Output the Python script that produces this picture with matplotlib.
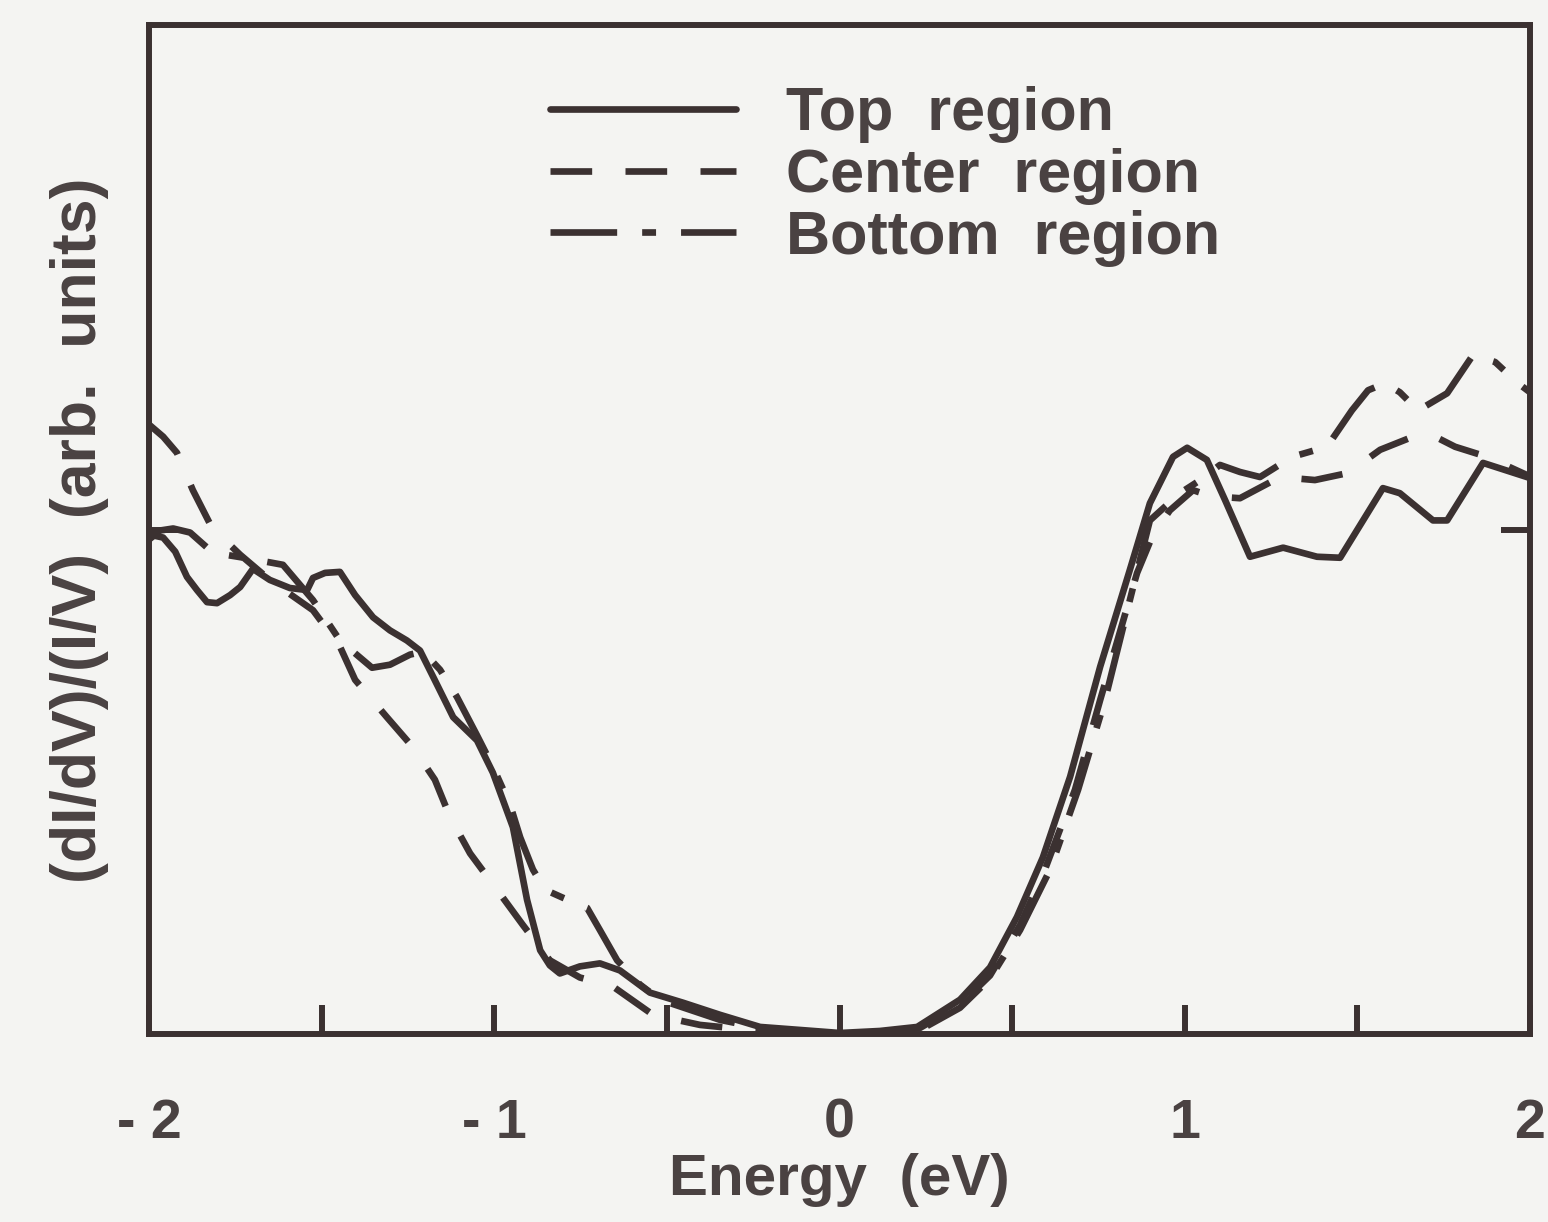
import matplotlib
matplotlib.use("Agg")
import matplotlib.pyplot as plt
from matplotlib.ticker import MultipleLocator, NullFormatter

plt.rcParams['font.family'] = ['Liberation Sans', 'DejaVu Sans']
plt.rcParams['lines.scale_dashes'] = False

# ---- data ----
top_x = [-2.000, -1.959, -1.924, -1.890, -1.861, -1.832, -1.803, -1.765, -1.736, -1.699,
         -1.650, -1.592, -1.542, -1.525, -1.490, -1.447, -1.403, -1.351, -1.302, -1.253,
         -1.215, -1.177, -1.119, -1.050, -1.004, -0.946, -0.905, -0.867, -0.839, -0.810,
         -0.752, -0.694, -0.636, -0.549, -0.453, -0.346, -0.230, -0.114, 0.001, 0.117,
         0.225, 0.349, 0.436, 0.514, 0.589, 0.668, 0.755, 0.841, 0.899, 0.966,
         1.007, 1.064, 1.117, 1.189, 1.285, 1.383, 1.450, 1.574, 1.623, 1.719,
         1.760, 1.864, 2.000]
top_y = [0.495, 0.492, 0.478, 0.453, 0.440, 0.428, 0.427, 0.435, 0.443, 0.461,
         0.450, 0.442, 0.440, 0.452, 0.457, 0.458, 0.435, 0.413, 0.400, 0.390,
         0.380, 0.354, 0.314, 0.291, 0.259, 0.205, 0.133, 0.083, 0.068, 0.060,
         0.067, 0.070, 0.063, 0.041, 0.031, 0.019, 0.007, 0.004, 0.001, 0.003,
         0.007, 0.034, 0.066, 0.116, 0.175, 0.255, 0.364, 0.460, 0.526, 0.572,
         0.581, 0.569, 0.529, 0.473, 0.482, 0.473, 0.472, 0.541, 0.536, 0.509,
         0.509, 0.566, 0.551]

center_x = [-2.000, -1.959, -1.919, -1.873, -1.818, -1.736, -1.650, -1.525, -1.447, -1.403,
            -1.311, -1.235, -1.172, -1.128, -1.070, -0.992, -0.917, -0.839, -0.752, -0.656,
            -0.540, -0.404, -0.259, -0.114, 0.001, 0.117, 0.233, 0.349, 0.436, 0.523,
            0.595, 0.682, 0.755, 0.862, 0.908, 0.957, 1.024, 1.067, 1.117, 1.160,
            1.276, 1.377, 1.473, 1.566, 1.676, 1.731, 1.783, 1.876, 1.991, 2.000]
center_y = [0.604, 0.592, 0.576, 0.539, 0.502, 0.475, 0.450, 0.420, 0.384, 0.351,
            0.314, 0.284, 0.252, 0.215, 0.179, 0.143, 0.108, 0.073, 0.056, 0.047,
            0.019, 0.009, 0.004, 0.002, 0.000, 0.001, 0.006, 0.029, 0.058, 0.108,
            0.163, 0.242, 0.331, 0.457, 0.495, 0.519, 0.539, 0.534, 0.532, 0.531,
            0.552, 0.549, 0.556, 0.579, 0.594, 0.591, 0.582, 0.572, 0.554, 0.551]

bottom_x = [-2.000, -1.968, -1.930, -1.881, -1.815, -1.707, -1.612, -1.525, -1.447, -1.354,
            -1.302, -1.244, -1.206, -1.157, -1.108, -1.050, -1.004, -0.954, -0.925, -0.888,
            -0.853, -0.801, -0.731, -0.694, -0.644, -0.578, -0.520, -0.433, -0.346, -0.230,
            -0.114, 0.001, 0.117, 0.233, 0.349, 0.436, 0.523, 0.610, 0.691, 0.769,
            0.841, 0.899, 0.986, 1.045, 1.102, 1.160, 1.218, 1.311, 1.412, 1.484,
            1.531, 1.580, 1.623, 1.676, 1.760, 1.835, 1.899, 1.965, 2.000]
bottom_y = [0.490, 0.499, 0.501, 0.497, 0.477, 0.471, 0.465, 0.430, 0.390, 0.363,
            0.366, 0.376, 0.379, 0.361, 0.334, 0.296, 0.265, 0.227, 0.195, 0.163,
            0.143, 0.135, 0.125, 0.103, 0.073, 0.049, 0.034, 0.024, 0.014, 0.006,
            0.003, 0.000, 0.000, 0.004, 0.026, 0.055, 0.103, 0.163, 0.242, 0.331,
            0.430, 0.509, 0.536, 0.549, 0.564, 0.557, 0.552, 0.572, 0.582, 0.618,
            0.638, 0.645, 0.636, 0.618, 0.635, 0.673, 0.666, 0.645, 0.636]

series_labels = ["Top  region", "Center  region", "Bottom  region"]
xtick_values = [-2, -1, 0, 1, 2]
xtick_labels = ["- 2", "- 1", "0", "1", "2"]
xlabel = "Energy  (eV)"
ylabel = "(dI/dV)/(I/V)  (arb.  units)"

# ---- style ----
ink = "#3b3131"
txt = "#4a4242"
bg = "#f4f4f2"
lw = 4.8

fig = plt.figure(figsize=(15.48, 12.22), dpi=100, facecolor=bg)
ax = fig.add_axes([149/1548, 1-1034/1222, (1530-149)/1548, (1034-25)/1222])
ax.set_facecolor(bg)

l1, = ax.plot(top_x, top_y, color=ink, lw=lw, solid_joinstyle='round', solid_capstyle='round',
              label=series_labels[0])
l2, = ax.plot(center_x, center_y, color=ink, lw=lw, dashes=(30, 24),
              dash_capstyle='butt', dash_joinstyle='round', label=series_labels[1])
l3, = ax.plot(bottom_x, bottom_y, color=ink, lw=lw, dashes=(48, 18, 10, 18),
              dash_capstyle='butt', dash_joinstyle='round', label=series_labels[2])

ax.set_xlim(-2, 2)
ax.set_ylim(0, 1)

for s in ax.spines.values():
    s.set_linewidth(4.3)
    s.set_color(ink)

ax.set_xticks(xtick_values)
ax.set_xticklabels(xtick_labels)
ax.xaxis.set_minor_locator(MultipleLocator(0.5))
ax.set_yticks([0.5])
ax.yaxis.set_major_formatter(NullFormatter())
ax.tick_params(axis='x', which='both', direction='in', length=21, width=4.3, color=ink,
               top=False, pad=46, labelsize=40, labelcolor=txt)
ax.tick_params(axis='y', which='both', direction='in', length=21, width=4.3, color=ink,
               left=True, right=True, labelleft=False)
for t in ax.get_xticklabels():
    t.set_fontweight('bold')

ax.set_xlabel(xlabel, fontsize=42, fontweight='bold', color=txt, labelpad=2)
fig.text(80/1548, 1-530/1222, ylabel, rotation=90, ha='center', va='center',
         fontsize=45, fontweight='bold', color=txt)

leg = ax.legend(handles=[l1, l2, l3], loc='upper left',
                bbox_to_anchor=(550/1548, 1-86/1222), bbox_transform=fig.transFigure,
                frameon=False, fontsize=44, handlelength=3.05, handletextpad=0.82,
                labelspacing=0.08, borderpad=0, borderaxespad=0)
for t in leg.get_texts():
    t.set_fontweight('bold')
    t.set_color(txt)

fig.savefig("out.png", dpi=100, facecolor=bg)
